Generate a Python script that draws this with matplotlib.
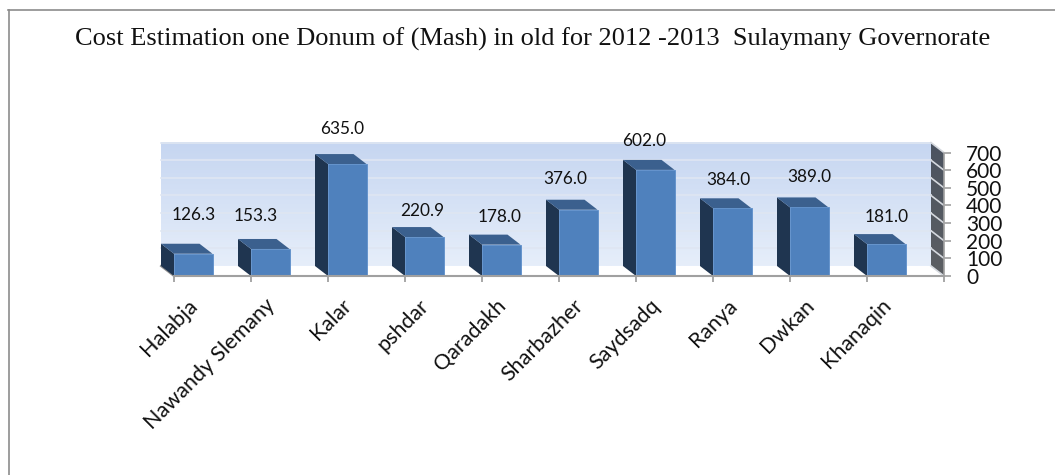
#!/usr/bin/env python3
"""Cost per donum of mash by district, drawn as a fake 3D column chart."""

import matplotlib
matplotlib.use("Agg")
import matplotlib.pyplot as plt
import numpy as np
from matplotlib.colors import LinearSegmentedColormap
from matplotlib.lines import Line2D
from matplotlib.patches import Polygon, Rectangle

TITLE = "Cost Estimation one Donum of (Mash) in old for 2012 -2013  Sulaymany Governorate"
districts = ["Halabja", "Nawandy Slemany", "Kalar", "pshdar", "Qaradakh",
             "Sharbazher", "Saydsadq", "Ranya", "Dwkan", "Khanaqin"]
costs = [126.3, 153.3, 635.0, 220.9, 178.0, 376.0, 602.0, 384.0, 389.0, 181.0]
y_ticks = [0, 100, 200, 300, 400, 500, 600, 700]

# label shift from top centre of each bar, in pixels
label_dx = [0, -15, -5, -2, -2, -13, -11, -4, 0, 0]
label_dy = [39, 33, 35, 26, 28, 31, 29, 28, 30, 27]

W, H = 1055, 475
LEFT, RIGHT, BASE, TOP = 174, 944, 276, 152.6
DEPTH_X_PX, DEPTH_Y_PX = 13, 10

fig = plt.figure(figsize=(W / 100, H / 100), dpi=100)

# the frame only shows on the left and top
fig.add_artist(Line2D([8.5 / W, 8.5 / W], [0, 1 - 10 / H], color="#8c8c8c", lw=1.2))
fig.add_artist(Line2D([8 / W, 1], [1 - 10 / H, 1 - 10 / H], color="#8c8c8c", lw=1.2))

ax = fig.add_axes([LEFT / W, 1 - BASE / H, (RIGHT - LEFT) / W, (BASE - TOP) / H])
ax.set_facecolor("none")

# depth offset in data units
dx = DEPTH_X_PX / ((RIGHT - LEFT) / 10)
dy = DEPTH_Y_PX / ((BASE - TOP) / 700)

# back wall
wall_cmap = LinearSegmentedColormap.from_list("wall", ["#e6eefa", "#c6d6f1"])
ax.imshow(np.linspace(1, 0, 100).reshape(-1, 1), extent=(-dx, 10 - dx, dy, 700 + dy),
          cmap=wall_cmap, aspect="auto", zorder=1, clip_on=False)
for v in y_ticks[1:]:
    ax.plot([-dx, 10 - dx], [v + dy, v + dy], color="#dfe6f2", lw=1.2, zorder=2, clip_on=False)

# side wall on the right
side_cmap = LinearSegmentedColormap.from_list("side", ["#5c5f63", "#4b5360"])
side = ax.imshow(np.linspace(1, 0, 100).reshape(-1, 1), extent=(10 - dx, 10, 0, 700 + dy),
                 cmap=side_cmap, aspect="auto", zorder=1)
side.set_clip_box(fig.bbox)
side.set_clip_path(Polygon([(10 - dx, dy), (10, 0), (10, 700), (10 - dx, 700 + dy)],
                           transform=ax.transData))
for v in y_ticks:
    ax.plot([10 - dx, 10], [v + dy, v], color="#d5d9df", lw=1.2, zorder=2, clip_on=False)

ax.set_xlim(0, 10)
ax.set_ylim(0, 700)

# floor
ax.add_patch(Polygon([(-dx, dy), (10 - dx, dy), (10, 0), (0, 0)], facecolor="white",
                     edgecolor="none", zorder=1.5, clip_on=False))
ax.plot([-dx, 0], [dy, 0], color="#8f8f8f", lw=1.5, zorder=2, clip_on=False)

# columns
for i, v in enumerate(costs):
    x0, x1 = i, i + 0.5
    ax.add_patch(Polygon([(x0, 0), (x0 - dx, dy), (x0 - dx, v + dy), (x0, v)],
                         facecolor="#1f3550", edgecolor="none", zorder=3, clip_on=False))
    ax.add_patch(Polygon([(x0, v), (x0 - dx, v + dy), (x1 - dx, v + dy), (x1, v)],
                         facecolor="#3b608e", edgecolor="none", zorder=3, clip_on=False))
    ax.add_patch(Rectangle((x0, 0), 0.5, v, facecolor="#4f81bd", edgecolor="#5e8fca",
                           linewidth=0.6, zorder=4, clip_on=False))
    ax.annotate(f"{v:.1f}", (i + 0.25, v), xytext=(label_dx[i] * 0.72, label_dy[i] * 0.72),
                textcoords="offset points", ha="center", va="center",
                family="Lato", fontsize=12.4, color="#111111", zorder=6,
                annotation_clip=False)

# axes
for name in ["top", "left"]:
    ax.spines[name].set_visible(False)
ax.spines["bottom"].set_color("#a0a0a0")
ax.spines["bottom"].set_linewidth(1.5)
ax.spines["bottom"].set_zorder(5)
ax.spines["right"].set_color("#a0a0a0")
ax.spines["right"].set_linewidth(1.2)
ax.set_xticks(range(11))
ax.set_xticklabels([])
ax.tick_params(axis="x", color="#a0a0a0", length=4, width=1.3)
ax.yaxis.tick_right()
ax.set_yticks(y_ticks)
ax.set_yticklabels([str(v) for v in y_ticks], family="Lato", fontsize=15, color="#111111")
ax.tick_params(axis="y", color="#a0a0a0", length=5, width=1.2, pad=11)

for i, name in enumerate(districts):
    ax.annotate(name, (i + 0.25, 0), xytext=(1, -19), textcoords="offset points",
                rotation=45, rotation_mode="anchor", ha="right", va="center",
                family="Lato", fontsize=15.5, color="#111111", annotation_clip=False)

fig.text(533 / W, 1 - 39 / H, TITLE, ha="center", va="center",
         family="Liberation Serif", fontsize=19, color="#111111")

fig.savefig("out.png", dpi=100)
